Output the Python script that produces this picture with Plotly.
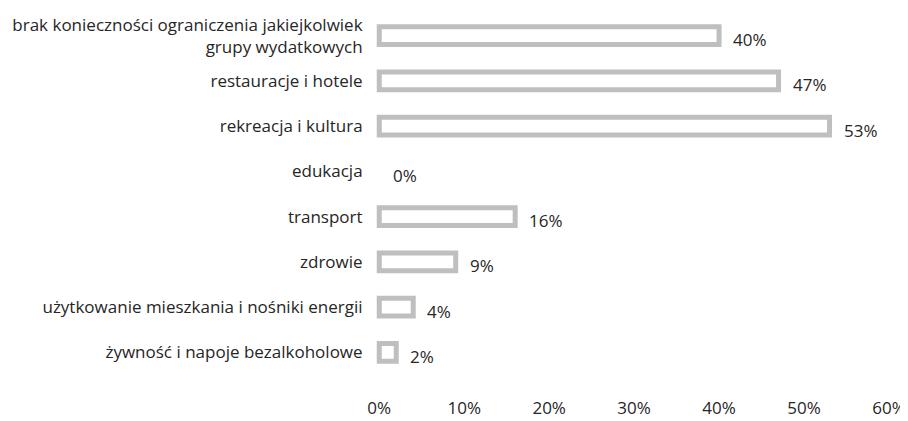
import plotly.graph_objects as go

categories = [
    "brak konieczności ograniczenia jakiejkolwiek<br>grupy wydatkowych",
    "restauracje i hotele",
    "rekreacja i kultura",
    "edukacja",
    "transport",
    "zdrowie",
    "użytkowanie mieszkania i nośniki energii",
    "żywność i napoje bezalkoholowe",
]
values = [40, 47, 53, 0, 16, 9, 4, 2]
value_labels = ["40%", "47%", "53%", "0%", "16%", "9%", "4%", "2%"]
x_ticks = [0, 10, 20, 30, 40, 50, 60]
x_tick_labels = ["0%", "10%", "20%", "30%", "40%", "50%", "60%"]

FONT = "Open Sans"
FONT_SIZE = 17
TEXT_COLOR = "#262626"

line_widths = [5 if v > 0 else 0 for v in values]

fig = go.Figure()
fig.add_trace(go.Bar(
    x=values,
    y=categories,
    orientation="h",
    width=0.39,
    marker=dict(color="white", line=dict(color="#BFBFBF", width=line_widths)),
    hoverinfo="skip",
))

for v, c, t in zip(values, categories, value_labels):
    fig.add_annotation(
        x=v, y=c, text=t, showarrow=False,
        xanchor="left", yanchor="middle",
        xshift=12, yshift=-4,
        font=dict(family=FONT, size=FONT_SIZE, color=TEXT_COLOR),
    )

fig.update_layout(
    width=900, height=413,
    margin=dict(l=367, r=19, t=5, b=46, autoexpand=False),
    paper_bgcolor="white", plot_bgcolor="white",
    showlegend=False,
    font=dict(family=FONT, size=FONT_SIZE, color=TEXT_COLOR),
)
fig.update_xaxes(
    range=[-0.5, 60],
    tickvals=x_ticks, ticktext=x_tick_labels,
    showgrid=False, zeroline=False, showline=False,
    automargin=False,
    ticklabelstandoff=21,
    tickfont=dict(family=FONT, size=FONT_SIZE, color=TEXT_COLOR),
)
fig.update_yaxes(
    type="category",
    categoryorder="array", categoryarray=categories,
    range=[7.5, -0.5],
    showgrid=False, zeroline=False, showline=False,
    automargin=False,
    ticks="outside", ticklen=8, tickcolor="rgba(0,0,0,0)",
    tickfont=dict(family=FONT, size=FONT_SIZE, color=TEXT_COLOR),
)

fig.write_html("out.html")
